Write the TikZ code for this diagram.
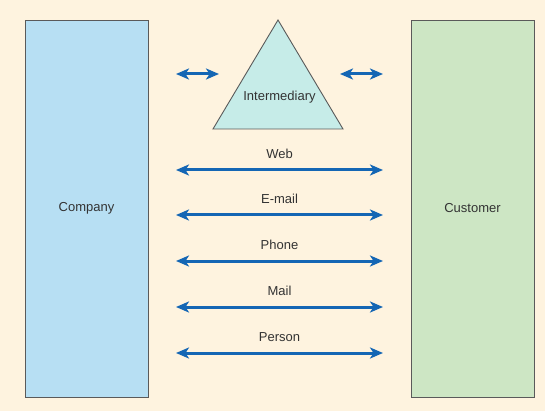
\documentclass[tikz,border=0pt]{standalone}
\usepackage{fontspec}
\setmainfont{Liberation Sans}
\usetikzlibrary{arrows.meta,positioning}
\definecolor{bgcream}{HTML}{FEF3DF}
\definecolor{companyblue}{HTML}{B7DFF3}
\definecolor{customergreen}{HTML}{CDE6C4}
\definecolor{intercyan}{HTML}{C6ECE8}
\definecolor{linkblue}{HTML}{1466B4}
\definecolor{edgegray}{HTML}{5A5A5A}
\definecolor{textgray}{HTML}{333333}
\tikzset{
  party/.style={draw=edgegray, line width=0.9pt, minimum width=123pt, minimum height=377pt, inner sep=0pt},
  link/.style={linkblue, line width=3pt, {Stealth[length=13pt,width=11pt,inset=3.5pt]}-{Stealth[length=13pt,width=11pt,inset=3.5pt]}},
  channel/.style={above=7pt, text=textgray}
}
\begin{document}
\begin{tikzpicture}[x=1pt, y=-1pt, font=\fontsize{13}{15}\selectfont, text=textgray]
    % Background
    \fill[bgcream] (0,0) rectangle (545,411);
    \useasboundingbox (0,0) rectangle (545,411);

    % Draw the two parties
    \node[party, fill=companyblue] (company) at (86.5,208.5) {Company};
    \node[party, fill=customergreen] (customer) at (472.5,208.5) {Customer};

    % Draw the intermediary triangle
    \coordinate (apex) at (278,20);
    \coordinate (baseL) at (213,129);
    \coordinate (baseR) at (343,129);
    \draw[draw=edgegray, line width=0.9pt, fill=intercyan] (apex) -- (baseR) -- (baseL) -- cycle;
    \node (intermediary) at (279.5,97) {Intermediary};

    % Arrows to and from the intermediary
    \coordinate (iL1) at (176,74);
    \coordinate (iL2) at (219,74);
    \coordinate (iR1) at (340,74);
    \coordinate (iR2) at (383,74);
    \draw[link] (iL1) -- (iL2);
    \draw[link] (iR1) -- (iR2);

    % Direct channels
    \coordinate (web1) at (176,170);
    \coordinate (web2) at (383,170);
    \draw[link] (web1) -- (web2) node[midway, channel] (web) {Web};

    \coordinate (email1) at (176,215);
    \coordinate (email2) at (383,215);
    \draw[link] (email1) -- (email2) node[midway, channel] (email) {E-mail};

    \coordinate (phone1) at (176,261);
    \coordinate (phone2) at (383,261);
    \draw[link] (phone1) -- (phone2) node[midway, channel] (phone) {Phone};

    \coordinate (mail1) at (176,307);
    \coordinate (mail2) at (383,307);
    \draw[link] (mail1) -- (mail2) node[midway, channel] (mail) {Mail};

    \coordinate (person1) at (176,353);
    \coordinate (person2) at (383,353);
    \draw[link] (person1) -- (person2) node[midway, channel] (person) {Person};
\end{tikzpicture}
\end{document}
